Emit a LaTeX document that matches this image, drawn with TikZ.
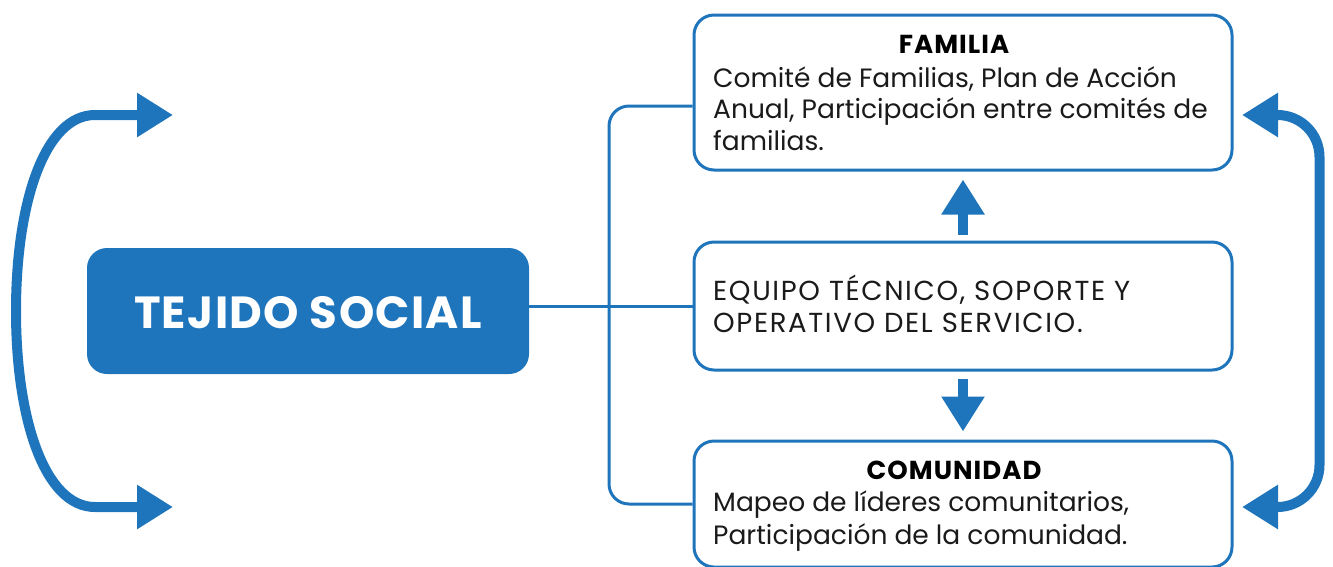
\documentclass[tikz,border=0pt]{standalone}
\usepackage{fontspec}
\setmainfont{Poppins}
\usetikzlibrary{arrows.meta}
\definecolor{azul}{HTML}{1F75BC}
\definecolor{tinta}{HTML}{1A1A1A}
\tikzset{
  box/.style={draw=azul, line width=3pt, fill=white, rounded corners=20pt, inner sep=0pt},
  mainbox/.style={fill=azul, rounded corners=20pt, inner sep=0pt, minimum width=442pt, minimum height=126pt},
  conn/.style={draw=azul, line width=3pt},
  bodytxt/.style={anchor=base west, inner sep=0pt, text=tinta, font=\fontsize{26.5}{30}\selectfont},
  capstxt/.style={anchor=base west, inner sep=0pt, text=tinta, font=\fontsize{27.5}{30}\selectfont\addfontfeatures{LetterSpace=6}},
  headtxt/.style={anchor=base, inner sep=0pt, text=black, font=\fontsize{26}{30}\selectfont\bfseries\addfontfeatures{LetterSpace=4}},
  vertarrow/.style={draw=azul, line width=10pt, -{Triangle[length=35pt,width=41pt]}},
  brack/.style={draw=azul, line width=10pt, {Triangle[length=36pt,width=42pt]}-{Triangle[length=36pt,width=42pt]}}
}
\begin{document}
\begin{tikzpicture}[x=1pt,y=-1pt]
\useasboundingbox (0,0) rectangle (1333,566);
\clip (0,0) rectangle (1333,566);
% boxes
\node[mainbox] (tejido) at (308,311) {};
\node[anchor=base, inner sep=0pt, text=white, font=\fontsize{45}{50}\selectfont\bfseries\addfontfeatures{LetterSpace=3}] (tejidotxt) at (308,328) {TEJIDO SOCIAL};
\node[box, minimum width=538pt, minimum height=155pt] (familia) at (963,92.5) {};
\node[box, minimum width=538pt, minimum height=128pt] (equipo) at (963,306) {};
\node[box, minimum width=538pt, minimum height=126pt] (comunidad) at (963,504) {};
% connectors
\coordinate (vx) at (609,306);
\draw[conn] (tejido.east |- equipo.west) -- (equipo.west);
\draw[conn, rounded corners=20pt] ([yshift=-13.5pt]familia.west) -| (vx) |- (comunidad.west);
% vertical arrows
\draw[vertarrow, shorten <=6pt, shorten >=8pt] (equipo.north) -- (familia.south);
\draw[vertarrow, shorten <=7pt, shorten >=8pt] (equipo.south) -- (comunidad.north);
% texts
\node[headtxt] (famh) at (954,53) {FAMILIA};
\node[bodytxt] (fam1) at (713,87) {Comité de Familias, Plan de Acción};
\node[bodytxt] (fam2) at (713,118) {Anual, Participación entre comités de};
\node[bodytxt] (fam3) at (713,150) {familias.};
\node[capstxt] (eq1) at (713,300) {EQUIPO TÉCNICO, SOPORTE Y};
\node[capstxt] (eq2) at (713,332) {OPERATIVO DEL SERVICIO.};
\node[headtxt] (comh) at (954,479) {COMUNIDAD};
\node[bodytxt] (com1) at (713,511) {Mapeo de líderes comunitarios,};
\node[bodytxt] (com2) at (713,544) {Participación de la comunidad.};
% bracket arrows
\coordinate (lt) at (173,115);
\coordinate (lb) at (173,507);
\coordinate (rt) at (1242,115);
\coordinate (rb) at (1242,507);
\draw[brack] (lb) -- (95,507) .. controls (45,507) and (16,420) .. (16,311) .. controls (16,202) and (45,115) .. (95,115) -- (lt);
\draw[brack, rounded corners=42pt] (rt) -- (1319.5,115) -- (1319.5,507) -- (rb);
\end{tikzpicture}
\end{document}
